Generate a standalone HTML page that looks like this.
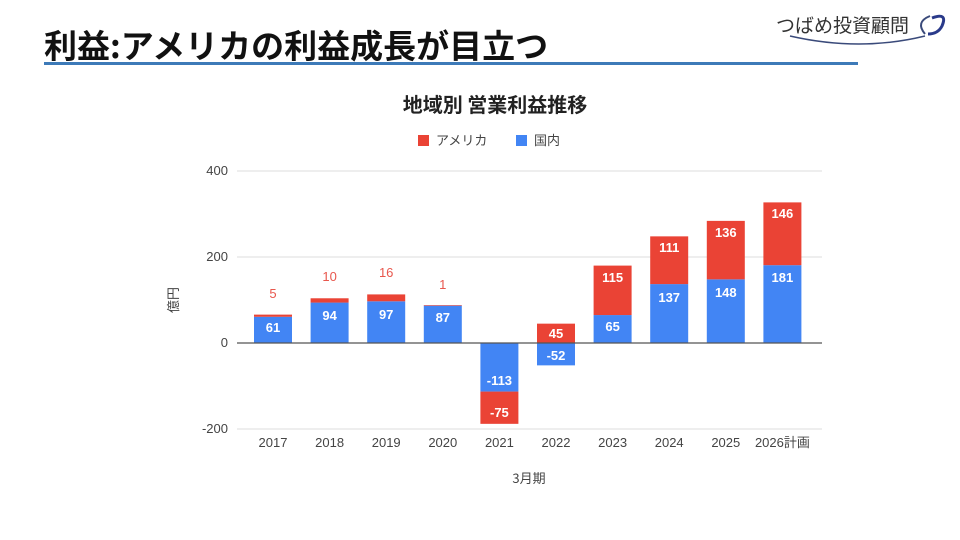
<!DOCTYPE html>
<html><head><meta charset="utf-8"><style>
body{margin:0;background:#fff;width:960px;height:540px;overflow:hidden}
svg{display:block}
text{font-family:"Liberation Sans","Noto Sans CJK JP",sans-serif}
.w{font-size:13px;font-weight:bold;fill:#fff;text-anchor:middle}
.r{font-size:13px;fill:#e8574d;text-anchor:middle}
</style></head><body>
<svg width="960" height="540" viewBox="0 0 960 540" xmlns="http://www.w3.org/2000/svg">
<text x="44" y="58" font-size="33" font-weight="bold" fill="#111" style="font-family:'Noto Sans CJK JP',sans-serif">利益:アメリカの利益成長が目立つ</text>
<rect x="44" y="62" width="814" height="3" fill="#3d7ab8"/>
<text x="776" y="32" font-size="19" fill="#333" style="font-family:'Noto Sans CJK JP',sans-serif">つばめ投資顧問</text>
<path d="M790 36 Q860 52 925 36" stroke="#3a4a7a" stroke-width="1.5" fill="none"/>
<path d="M930 16 Q915 22 925 34" stroke="#3a4a7a" stroke-width="2" fill="none"/>
<path d="M932 18 Q948 12 942 26 Q938 34 928 34" stroke="#2a3a8a" stroke-width="3" fill="none"/>
<text x="495" y="112" font-size="20" font-weight="bold" fill="#222" text-anchor="middle" style="font-family:'Noto Sans CJK JP',sans-serif">地域別 営業利益推移</text>
<rect x="418" y="135" width="11" height="11" fill="#ea4335"/>
<text x="436" y="145" font-size="13" fill="#444" style="font-family:'Noto Sans CJK JP',sans-serif">アメリカ</text>
<rect x="516" y="135" width="11" height="11" fill="#4285f4"/>
<text x="534" y="145" font-size="13" fill="#444" style="font-family:'Noto Sans CJK JP',sans-serif">国内</text>
<g stroke="#ddd" stroke-width="1">
<line x1="237" y1="171" x2="822" y2="171"/><line x1="237" y1="257" x2="822" y2="257"/><line x1="237" y1="429" x2="822" y2="429"/>
</g>
<g font-size="13" fill="#444" text-anchor="end">
<text x="228" y="175">400</text><text x="228" y="261">200</text><text x="228" y="347">0</text><text x="228" y="433">-200</text>
</g>
<text x="178" y="300" font-size="13" fill="#444" transform="rotate(-90 178 300)" text-anchor="middle" style="font-family:'Noto Sans CJK JP',sans-serif">億円</text>
<g fill="#4285f4">
<rect x="254" y="316.77" width="38" height="26.23"/>
<rect x="310.6" y="302.58" width="38" height="40.42"/>
<rect x="367.2" y="301.29" width="38" height="41.71"/>
<rect x="423.8" y="305.59" width="38" height="37.41"/>
<rect x="480.4" y="343" width="38" height="48.59"/>
<rect x="537" y="343" width="38" height="22.36"/>
<rect x="593.6" y="315.05" width="38" height="27.95"/>
<rect x="650.2" y="284.09" width="38" height="58.91"/>
<rect x="706.8" y="279.36" width="38" height="63.64"/>
<rect x="763.4" y="265.17" width="38" height="77.83"/>
</g>
<g fill="#ea4335">
<rect x="254" y="314.62" width="38" height="2.15"/>
<rect x="310.6" y="298.28" width="38" height="4.3"/>
<rect x="367.2" y="294.41" width="38" height="6.88"/>
<rect x="423.8" y="305.16" width="38" height="0.6"/>
<rect x="480.4" y="391.59" width="38" height="32.25"/>
<rect x="537" y="323.65" width="38" height="19.35"/>
<rect x="593.6" y="265.6" width="38" height="49.45"/>
<rect x="650.2" y="236.36" width="38" height="47.73"/>
<rect x="706.8" y="220.88" width="38" height="58.48"/>
<rect x="763.4" y="202.39" width="38" height="62.78"/>
</g>
<line x1="237" y1="343" x2="822" y2="343" stroke="#555" stroke-width="1.2"/>
<text class="w" x="273" y="332">61</text>
<text class="w" x="329.6" y="320">94</text>
<text class="w" x="386.2" y="319">97</text>
<text class="w" x="442.8" y="322">87</text>
<text class="w" x="499.4" y="385">-113</text>
<text class="w" x="499.4" y="417">-75</text>
<text class="w" x="556" y="360">-52</text>
<text class="w" x="556" y="338">45</text>
<text class="w" x="612.6" y="331">65</text>
<text class="w" x="612.6" y="282">115</text>
<text class="w" x="669.2" y="302">137</text>
<text class="w" x="669.2" y="252">111</text>
<text class="w" x="725.8" y="297">148</text>
<text class="w" x="725.8" y="237">136</text>
<text class="w" x="782.4" y="282">181</text>
<text class="w" x="782.4" y="218">146</text>
<text class="r" x="273" y="298">5</text>
<text class="r" x="329.6" y="281">10</text>
<text class="r" x="386.2" y="277">16</text>
<text class="r" x="442.8" y="289">1</text>
<g font-size="13" fill="#444" text-anchor="middle">
<text x="273" y="447">2017</text><text x="329.6" y="447">2018</text><text x="386.2" y="447">2019</text><text x="442.8" y="447">2020</text><text x="499.4" y="447">2021</text><text x="556" y="447">2022</text><text x="612.6" y="447">2023</text><text x="669.2" y="447">2024</text><text x="725.8" y="447">2025</text><text x="782.4" y="447">2026計画</text>
</g>
<text x="529" y="483" font-size="13" fill="#444" text-anchor="middle" style="font-family:'Noto Sans CJK JP',sans-serif">3月期</text>
</svg>
</body></html>
